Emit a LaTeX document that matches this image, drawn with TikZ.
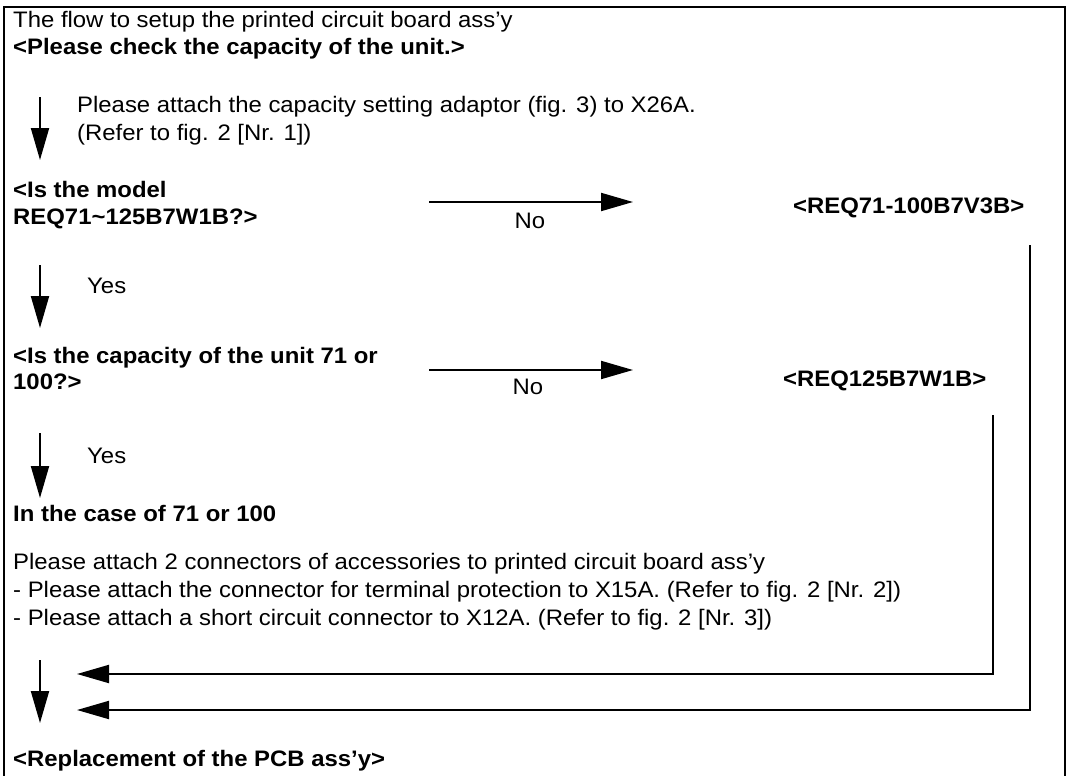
\documentclass[tikz,border=0pt]{standalone}
\usepackage{fontspec}
\setmainfont[FakeStretch=1.067]{Liberation Sans}
\usetikzlibrary{arrows.meta}
\begin{document}
\begin{tikzpicture}[x=1pt,y=-1pt,
  txt/.style={anchor=base west,inner sep=0pt,font=\fontsize{22.4}{27}\selectfont},
  btxt/.style={anchor=base west,inner sep=0pt,font=\fontsize{22.4}{27}\selectfont\bfseries},
  flow/.style={line width=2pt,-{Triangle[length=32pt,width=18pt]}},
  frame/.style={line width=2.5pt}]
\useasboundingbox (0,0) rectangle (1071,776);
\draw[frame] (4,776) -- (4,7) -- (1065,7) -- (1065,776);
% texts
\node[txt]  (title)  at (13,28)  {The flow to setup the printed circuit board ass’y};
\node[btxt] (check)  at (13,55)  {<Please check the capacity of the unit.>};
\node[txt]  (attach) at (77,112) {Please attach the capacity setting adaptor (fig. 3) to X26A.};
\node[txt]  (refer)  at (77,140) {(Refer to fig. 2 [Nr. 1])};
\node[btxt] (modelA) at (13,197) {<Is the model};
\node[btxt] (modelB) at (13,224) {REQ71\textasciitilde125B7W1B?>};
\node[txt,anchor=base] (noA) at (530,228) {No};
\node[btxt] (reqA)   at (793,213) {<REQ71-100B7V3B>};
\node[txt]  (yesA)   at (87,293) {Yes};
\node[btxt] (capA)   at (13,363) {<Is the capacity of the unit 71 or};
\node[btxt] (capB)   at (13,389) {100?>};
\node[txt,anchor=base] (noB) at (528,394) {No};
\node[btxt] (reqB)   at (783,386) {<REQ125B7W1B>};
\node[txt]  (yesB)   at (87,463) {Yes};
\node[btxt] (case)   at (13,521) {In the case of 71 or 100};
\node[txt]  (pA)     at (13,569) {Please attach 2 connectors of accessories to printed circuit board ass’y};
\node[txt]  (pB)     at (13,597) {- Please attach the connector for terminal protection to X15A. (Refer to fig. 2 [Nr. 2])};
\node[txt]  (pC)     at (13,625) {- Please attach a short circuit connector to X12A. (Refer to fig. 2 [Nr. 3])};
\node[btxt] (repl)   at (13,766) {<Replacement of the PCB ass’y>};
% connector end points
\coordinate (a1s) at (40,97);  \coordinate (a1e) at (40,160);
\coordinate (a2s) at (40,265); \coordinate (a2e) at (40,328);
\coordinate (a3s) at (40,433); \coordinate (a3e) at (40,498);
\coordinate (a4s) at (40,660); \coordinate (a4e) at (40,723);
\coordinate (n1s) at (429,202); \coordinate (n1e) at (633,202);
\coordinate (n2s) at (429,370); \coordinate (n2e) at (633,370);
\coordinate (r1s) at (1030,245); \coordinate (r1c) at (1030,710); \coordinate (r1e) at (77,710);
\coordinate (r2s) at (993,415);  \coordinate (r2c) at (993,674);  \coordinate (r2e) at (77,674);
% connectors
\draw[flow] (a1s) -- (a1e);
\draw[flow] (a2s) -- (a2e);
\draw[flow] (a3s) -- (a3e);
\draw[flow] (a4s) -- (a4e);
\draw[flow] (n1s) -- (n1e);
\draw[flow] (n2s) -- (n2e);
\draw[flow] (r1s) -- (r1c) -- (r1e);
\draw[flow] (r2s) -- (r2c) -- (r2e);
\end{tikzpicture}
\end{document}
